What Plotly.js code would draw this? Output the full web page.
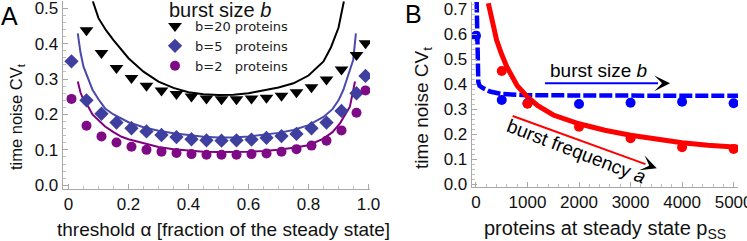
<!DOCTYPE html>
<html>
<head>
<meta charset="utf-8">
<script src="https://cdn.plot.ly/plotly-3.0.1.min.js"></script>
<style>html,body{margin:0;padding:0;background:#fff;}#chart{width:747px;height:241px;}</style>
</head>
<body>
<div id="chart"></div>
<script>
// ---------- Panel A data ----------
const alphaPts = [0.01,0.06,0.11,0.16,0.21,0.26,0.31,0.36,0.41,0.46,0.51,0.56,0.61,0.66,0.71,0.76,0.81,0.86,0.91,0.96,0.99];
const alphaB20 = [0.06,0.11,0.16,0.21,0.26,0.31,0.36,0.41,0.46,0.51,0.56,0.61,0.66,0.71,0.76,0.81,0.86,0.91,0.96,0.99];
const cvB20 = [0.438,0.374,0.331,0.303,0.281,0.268,0.258,0.251,0.245,0.243,0.243,0.245,0.247,0.253,0.263,0.277,0.299,0.327,0.368,0.401];
const cvB5  = [0.350,0.240,0.202,0.177,0.161,0.152,0.142,0.136,0.130,0.127,0.126,0.127,0.129,0.134,0.139,0.145,0.161,0.177,0.210,0.260,0.309];
const cvB2  = [0.244,0.168,0.138,0.121,0.109,0.100,0.095,0.091,0.088,0.086,0.086,0.086,0.088,0.090,0.095,0.102,0.112,0.126,0.155,0.205,0.268];

const alphaCurve20 = [0.081,0.10,0.125,0.15,0.20,0.25,0.30,0.35,0.40,0.45,0.50,0.55,0.60,0.65,0.70,0.75,0.80,0.85,0.875,0.90,0.918];
const curve20 = [0.52,0.472,0.438,0.41,0.359,0.321,0.293,0.275,0.263,0.257,0.255,0.256,0.26,0.267,0.276,0.288,0.31,0.35,0.39,0.445,0.52];
const alphaCurve5 = [0.031,0.04,0.05,0.066,0.08,0.10,0.122,0.15,0.177,0.20,0.25,0.30,0.35,0.40,0.45,0.50,0.55,0.60,0.65,0.70,0.75,0.80,0.85,0.88,0.90,0.916,0.93,0.949,0.958];
const curve5 = [0.429,0.375,0.335,0.297,0.27,0.243,0.217,0.2,0.189,0.178,0.164,0.154,0.147,0.141,0.137,0.135,0.135,0.138,0.142,0.148,0.156,0.17,0.193,0.215,0.24,0.269,0.305,0.354,0.429];
const alphaCurve2 = [0.031,0.04,0.05,0.066,0.08,0.10,0.122,0.15,0.177,0.20,0.25,0.30,0.35,0.40,0.45,0.50,0.55,0.60,0.65,0.70,0.75,0.80,0.85,0.88,0.905,0.92,0.938,0.955];
const curve2 = [0.293,0.262,0.242,0.222,0.2,0.183,0.166,0.15,0.137,0.13,0.118,0.108,0.102,0.098,0.095,0.094,0.094,0.095,0.097,0.1,0.106,0.113,0.132,0.15,0.175,0.195,0.222,0.293];

const legendNames = ['b=20 proteins','b=5&nbsp;&nbsp;&nbsp;proteins','b=2&nbsp;&nbsp;&nbsp;proteins'];
const xTickValsA = [0,0.2,0.4,0.6,0.8,1.0];
const xTickTextA = ['0','0.2','0.4','0.6','0.8','1.0'];

// ---------- Panel B data ----------
const pDotsBlue = [0,500,1000,2000,3000,4000,5000];
const cvDotsBlue = [0.595,0.338,0.325,0.322,0.327,0.331,0.325];
const pDotsRed = [500,1000,2000,3000,4000,5000];
const cvDotsRed = [0.454,0.323,0.231,0.185,0.149,0.142];
const pCurveRed = [240,300,400,500,600,800,1000,1200,1500,2000,2500,3000,3500,4000,4500,5000,5085];
const cvCurveRed = [0.725,0.66,0.578,0.52,0.47,0.395,0.35,0.315,0.278,0.243,0.217,0.197,0.18,0.167,0.157,0.15,0.149];
const pCurveBlue = [12,20,28,35,45,70,100,142,272,500,1000,2000,3000,4000,5000,5085];
const cvCurveBlue = [0.74,0.6,0.5,0.45,0.41,0.395,0.39,0.385,0.372,0.362,0.357,0.355,0.355,0.355,0.355,0.355];

// arrows (data coords of panel B): [startP, startCV, tipP, tipCV]
const arrowSize = [1339,0.405,3766,0.405];
const arrowFreq = [712,0.274,3508,0.065];

const COL20='#000000', COL5='#3f3f9f', COL5L='#4a4aae', COL2='#7f0a85', COL2L='#800080';
const BLUE='#0000ff', RED='#ff0000';

const traces = [
  {x:alphaCurve20,y:curve20,mode:'lines',line:{color:COL20,width:2},showlegend:false,xaxis:'x',yaxis:'y',hoverinfo:'skip'},
  {x:alphaCurve5,y:curve5,mode:'lines',line:{color:COL5L,width:2},showlegend:false,xaxis:'x',yaxis:'y',hoverinfo:'skip'},
  {x:alphaCurve2,y:curve2,mode:'lines',line:{color:COL2L,width:2},showlegend:false,xaxis:'x',yaxis:'y',hoverinfo:'skip'},
  {x:alphaB20,y:cvB20,mode:'markers',name:legendNames[0],marker:{symbol:'triangle-down',size:12,color:COL20},xaxis:'x',yaxis:'y'},
  {x:alphaPts,y:cvB5,mode:'markers',name:legendNames[1],marker:{symbol:'diamond',size:11,color:COL5},xaxis:'x',yaxis:'y'},
  {x:alphaPts,y:cvB2,mode:'markers',name:legendNames[2],marker:{symbol:'circle',size:10,color:COL2},xaxis:'x',yaxis:'y'},
  {x:pCurveBlue,y:cvCurveBlue,mode:'lines',line:{color:BLUE,width:4.5,dash:'13px,3px'},showlegend:false,xaxis:'x2',yaxis:'y2',hoverinfo:'skip'},
  {x:pCurveRed,y:cvCurveRed,mode:'lines',line:{color:RED,width:5},showlegend:false,xaxis:'x2',yaxis:'y2',hoverinfo:'skip'},
  {x:pDotsBlue,y:cvDotsBlue,mode:'markers',marker:{size:10,color:BLUE},showlegend:false,xaxis:'x2',yaxis:'y2'},
  {x:pDotsRed,y:cvDotsRed,mode:'markers',marker:{size:10,color:RED},showlegend:false,xaxis:'x2',yaxis:'y2'}
];

const axisCommon = {
  showline:true, linecolor:'#a8a8a8', linewidth:1, ticks:'inside', ticklen:5, tickwidth:1, tickcolor:'#a8a8a8',
  showgrid:false, zeroline:false, mirror:false, fixedrange:true, ticklabeloverflow:'allow',
  tickfont:{family:'Liberation Sans, Arial, sans-serif', size:17, color:'#111'}
};
const minorCommon = {ticks:'inside', ticklen:3, tickcolor:'#c0c0c0', showgrid:false};

const W=747, H=241;
function px(x){return x/W;}
function py(y){return (H-y)/H;}

const xsB=257.6/5000, ysB=250;
// arrow shafts end slightly before tip so black heads cover them
function shaftEnd(a, pxBack){
  const dxp=(a[2]-a[0])*xsB, dyp=(a[3]-a[1])*ysB;
  const L=Math.sqrt(dxp*dxp+dyp*dyp);
  return [a[2]-(dxp/L*pxBack)/xsB, a[3]-(dyp/L*pxBack)/ysB];
}
function tailOffset(a, pxBack){
  const dxp=(a[2]-a[0])*xsB, dyp=-(a[3]-a[1])*ysB;
  const L=Math.sqrt(dxp*dxp+dyp*dyp);
  return [-dxp/L*pxBack, -dyp/L*pxBack];
}
const endSize=shaftEnd(arrowSize,12), endFreq=shaftEnd(arrowFreq,12);
const tS=tailOffset(arrowSize,10), tF=tailOffset(arrowFreq,10);

const layout = {
  width:W, height:H, margin:{l:0,r:0,t:0,b:0},
  paper_bgcolor:'#fff', plot_bgcolor:'rgba(0,0,0,0)',
  font:{family:'Liberation Sans, Arial, sans-serif', size:17, color:'#111'},
  showlegend:true,
  legend:{x:px(155), y:py(11), xanchor:'left', yanchor:'top', bgcolor:'rgba(0,0,0,0)',
    font:{family:'DejaVu Sans', size:13, color:'#222'}, itemwidth:30, tracegroupgap:0},
  xaxis:Object.assign({}, axisCommon, {domain:[px(62.7),px(370)], range:[-0.0193,1.005], anchor:'y',
    tickvals:xTickValsA, ticktext:xTickTextA, minor:Object.assign({dtick:0.05}, minorCommon)}),
  yaxis:Object.assign({}, axisCommon, {domain:[py(188.8),py(1.2)], range:[-0.01,0.52], anchor:'x',
    dtick:0.1, tickformat:'.1f', minor:Object.assign({dtick:0.02}, minorCommon)}),
  xaxis2:Object.assign({}, axisCommon, {domain:[px(471.7),px(738)], range:[-83,5085], anchor:'y2',
    dtick:1000, minor:Object.assign({dtick:200}, minorCommon)}),
  yaxis2:Object.assign({}, axisCommon, {domain:[py(187),py(2)], range:[-0.01,0.73], anchor:'x2',
    dtick:0.1, tickformat:'.1f', minor:Object.assign({dtick:0.02}, minorCommon)}),
  shapes:[
    {type:'line', xref:'x2', yref:'y2', x0:arrowSize[0], y0:arrowSize[1], x1:endSize[0], y1:endSize[1], line:{color:BLUE,width:2}},
    {type:'line', xref:'x2', yref:'y2', x0:arrowFreq[0], y0:arrowFreq[1], x1:endFreq[0], y1:endFreq[1], line:{color:RED,width:2}}
  ],
  annotations:[
    {text:'A', xref:'paper', yref:'paper', x:px(9), y:py(16), showarrow:false, font:{size:25,color:'#000'}, xanchor:'center', yanchor:'middle'},
    {text:'B', xref:'paper', yref:'paper', x:px(413), y:py(14), showarrow:false, font:{size:25,color:'#000'}, xanchor:'center', yanchor:'middle'},
    {text:'burst size <i>b</i>', xref:'paper', yref:'paper', x:px(220), y:py(10.5), showarrow:false, font:{size:20,color:'#111'}, xanchor:'center', yanchor:'middle'},
    {text:'time noise CV<sub>t</sub>', xref:'paper', yref:'paper', x:px(17), y:py(117), textangle:-90, showarrow:false, font:{size:16.5}, xanchor:'center', yanchor:'middle'},
    {text:'time noise CV<sub>t</sub>', xref:'paper', yref:'paper', x:px(423), y:py(108), textangle:-90, showarrow:false, font:{size:19}, xanchor:'center', yanchor:'middle'},
    {text:'threshold α [fraction of the steady state]', xref:'paper', yref:'paper', x:px(223), y:py(229), showarrow:false, font:{size:19}, xanchor:'center', yanchor:'middle'},
    {text:'proteins at steady state p<sub>SS</sub>', xref:'paper', yref:'paper', x:px(605), y:py(229), showarrow:false, font:{size:20}, xanchor:'center', yanchor:'middle'},
    {text:'burst size <i>b</i>', xref:'x2', yref:'y2', x:2387, y:0.456, showarrow:false, font:{size:19,color:'#000'}, xanchor:'center', yanchor:'middle'},
    {text:'burst frequency <i>a</i>', xref:'x2', yref:'y2', x:1960, y:0.132, showarrow:false, textangle:21, font:{size:19,color:'#000'}, xanchor:'center', yanchor:'middle'},
    {text:' ', xref:'x2', yref:'y2', x:arrowSize[2], y:arrowSize[3], ax:tS[0], ay:tS[1], showarrow:true, arrowhead:3, arrowsize:1.75, arrowwidth:1.5, arrowcolor:'#000', standoff:0},
    {text:' ', xref:'x2', yref:'y2', x:arrowFreq[2], y:arrowFreq[3], ax:tF[0], ay:tF[1], showarrow:true, arrowhead:3, arrowsize:1.75, arrowwidth:1.5, arrowcolor:'#000', standoff:0}
  ]
};

Plotly.newPlot('chart', traces, layout, {staticPlot:true, displayModeBar:false});
</script>
</body>
</html>
